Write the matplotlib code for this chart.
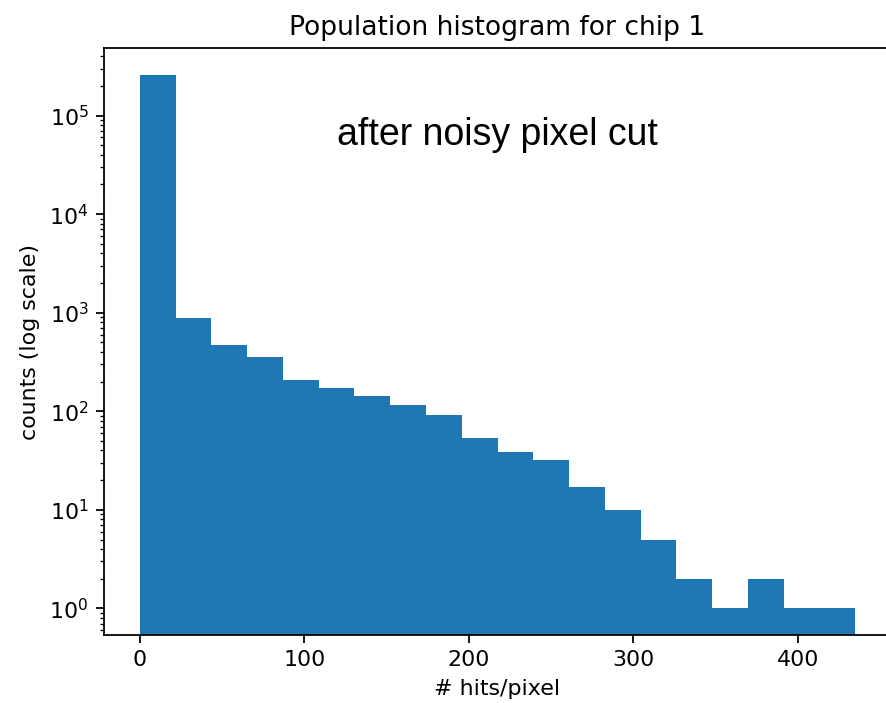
import numpy as np
import matplotlib
matplotlib.use("Agg")
import matplotlib.pyplot as plt

# histogram: 20 bins from 0 to 435 hits/pixel
bin_edges = np.linspace(0, 435, 21)
counts = [260000, 888, 473, 353, 208, 173, 143, 115, 92, 53,
          39, 32, 17, 10, 5, 2, 1, 2, 1, 1]

dpi = 159
fig = plt.figure(figsize=(886 / dpi, 703 / dpi), dpi=dpi)
# axes placed in pixels (reference image is cropped on the right)
W, H = 886, 703
left, right, top, bottom = 104, 891, 48, 635
ax = fig.add_axes([left / W, 1 - bottom / H, (right - left) / W, (bottom - top) / H])

ax.hist(bin_edges[:-1], bins=bin_edges, weights=counts, color='#1f77b4')
ax.set_yscale('log')
ax.set_xlim(-21.75, 456.75)
ax.set_ylim(10 ** -0.27, 10 ** 5.686)
# right edge is cut off in the original screenshot
ax.spines['right'].set_visible(False)

ax.set_title('Population histogram for chip 1')
ax.set_xlabel('# hits/pixel')
ax.set_ylabel('counts (log scale)')

ax.text(0.296, 0.835, 'after noisy pixel cut', transform=ax.transAxes,
        ha='left', va='baseline', fontsize=17, family='Liberation Sans')

fig.savefig('out.png', dpi=dpi)
